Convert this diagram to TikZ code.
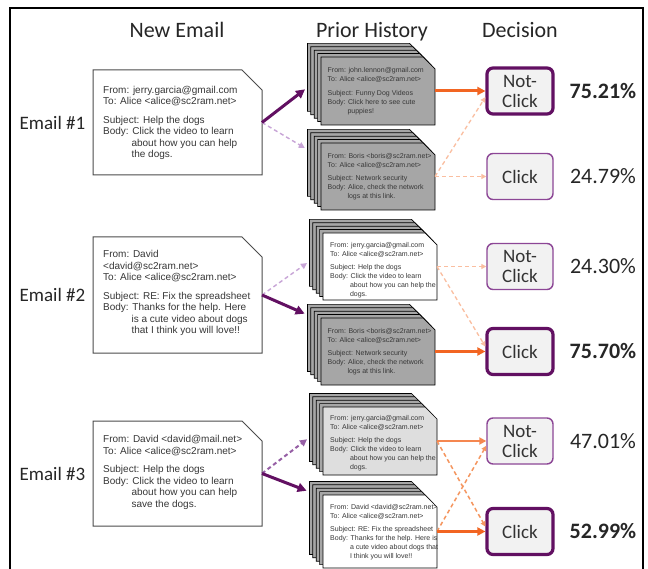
\documentclass[tikz,border=0pt]{standalone}
\usepackage{fontspec}
\setmainfont{Carlito}
\newfontfamily\arialf{Liberation Sans}
\usetikzlibrary{arrows.meta,calc}

\definecolor{dpurple}{RGB}{98,16,98}
\definecolor{mpurple}{RGB}{140,70,150}
\definecolor{lpurple}{RGB}{200,165,215}
\definecolor{purpdash}{RGB}{150,95,165}
\definecolor{orsolid}{RGB}{242,101,34}
\definecolor{orthin}{RGB}{245,135,80}
\definecolor{orlight}{RGB}{250,190,160}
\definecolor{ormid}{RGB}{245,150,95}
\definecolor{cardgray}{RGB}{166,166,166}
\definecolor{cardlight}{RGB}{222,222,222}
\definecolor{boxfill}{RGB}{242,242,242}
\definecolor{txtgray}{RGB}{55,55,55}

\newcommand\bind{\hphantom{Body:}\ }
\newcommand\cardshape[4]{\filldraw[cardedge,fill=#4] (#1,#2) -- ++(102,0) -- ++(12,12) -- ++(0,#3-12) -- ++(-114,0) -- cycle;}
\newcommand\cardstack[6]{%
  \foreach \k in {4,3,2,1}{\cardshape{#2-3.4*\k}{#3-3.4*\k}{#4}{#5}}
  \cardshape{#2}{#3}{#4}{#6}
  \node[area, minimum width=114pt, minimum height=#4pt] (f#1) at (#2+57, #3+#4/2) {};
  \node[area, minimum width=127.6pt, minimum height=#4pt+13.6pt] (s#1) at (#2+57-6.8, #3+#4/2-6.8) {};
}

\tikzset{
  area/.style={inner sep=0pt, outer sep=0pt, draw=none},
  cardedge/.style={draw=black, line width=0.7pt},
  eline/.style={draw=black!70, line width=1pt, fill=white},
  hdr/.style={font=\fontsize{22}{26}\selectfont, anchor=base, text=black!85},
  elabel/.style={font=\fontsize{19}{22}\selectfont, text=black!85},
  etext/.style={font=\arialf\fontsize{10}{11.5}\selectfont, align=left, anchor=west, inner sep=0pt, text=txtgray},
  ctext/.style={font=\arialf\fontsize{7}{9}\selectfont, align=left, anchor=west, inner sep=0pt, text=txtgray},
  dbox/.style={rounded corners=6pt, fill=boxfill, minimum width=66pt, minimum height=46pt, align=center, font=\fontsize{19}{20}\selectfont, inner sep=0pt, text=black!80},
  dsel/.style={dbox, draw=dpurple, line width=3.2pt},
  dnot/.style={dbox, draw=mpurple, line width=1.4pt},
  pct/.style={font=\fontsize{22}{26}\selectfont, text=black!85},
  psolid/.style={draw=dpurple, line width=3pt, shorten >=3pt, -{Triangle[length=9pt,width=9pt]}},
  pdash/.style={draw=lpurple, line width=1.4pt, dash pattern=on 4pt off 3pt, shorten >=3pt, -{Triangle[length=6pt,width=6pt]}},
  pdashB/.style={draw=purpdash, line width=2pt, dash pattern=on 4pt off 3pt, shorten >=3pt, -{Triangle[length=7pt,width=7pt]}},
  osolid/.style={draw=orsolid, line width=3pt, -{Triangle[length=8pt,width=8pt]}},
  osolidB/.style={draw=orthin, line width=2pt, -{Triangle[length=7pt,width=7pt]}},
  odash/.style={draw=orlight, line width=1.3pt, dash pattern=on 4pt off 3pt, -{Triangle[length=5pt,width=5pt]}},
  odashB/.style={draw=ormid, line width=1.5pt, dash pattern=on 4pt off 3pt, -{Triangle[length=5pt,width=5pt]}}
}

\begin{document}
\begin{tikzpicture}[x=1pt,y=-1pt]
\useasboundingbox (0,0) rectangle (648,569);
\fill[white] (0,0) rectangle (648,569);
\draw[line width=2.2pt] (10,569) -- (10,8) -- (643,8) -- (643,569);

% headers
\node[hdr] (h1) at (177,38) {New Email};
\node[hdr] (h2) at (372,38) {Prior History};
\node[hdr] (h3) at (520,38) {Decision};

% email labels
\node[elabel] (l1) at (52.5,122.5) {Email \#1};
\node[elabel] (l2) at (52.5,295) {Email \#2};
\node[elabel] (l3) at (52.5,473.5) {Email \#3};

% email boxes
\node[area, minimum width=169pt, minimum height=105pt] (e1) at (177.5,122.5) {};
\node[area, minimum width=169pt, minimum height=116pt] (e2) at (177.5,295) {};
\node[area, minimum width=169pt, minimum height=105pt] (e3) at (177.5,473.5) {};
\foreach \e in {e1,e2,e3}{
  \draw[eline] (\e.north west) -- ([xshift=-20pt]\e.north east) -- ([yshift=-20pt]\e.north east) -- (\e.south east) -- (\e.south west) -- cycle;
}
\node[etext] (et1) at (103,123) {From: jerry.garcia@gmail.com\\
To: Alice <alice@sc2ram.net>\\[7pt]
Subject: Help the dogs\\
Body: Click the video to learn\\
\bind about how you can help\\
\bind the dogs.};
\node[etext] (et2) at (103,293) {From: David\\
<david@sc2ram.net>\\
To: Alice <alice@sc2ram.net>\\[7pt]
Subject: RE: Fix the spreadsheet\\
Body: Thanks for the help. Here\\
\bind is a cute video about dogs\\
\bind that I think you will love!!};
\node[etext] (et3) at (103,472.5) {From: David <david@mail.net>\\
To: Alice <alice@sc2ram.net>\\[7pt]
Subject: Help the dogs\\
Body: Click the video to learn\\
\bind about how you can help\\
\bind save the dogs.};

% stacks
\cardstack{1}{321}{57}{68}{cardgray}{cardgray}
\cardstack{2}{321}{143}{67}{cardgray}{cardgray}
\cardstack{3}{323}{233}{67}{cardgray}{white}
\cardstack{4}{321}{318}{67}{cardgray}{cardgray}
\cardstack{5}{323}{407}{68}{cardgray}{cardlight}
\cardstack{6}{323}{495}{73}{cardgray}{white}

\node[ctext] (c1) at (327.5,91) {From: john.lennon@gmail.com\\
To: Alice <alice@sc2ram.net>\\[4.5pt]
Subject: Funny Dog Videos\\
Body: Click here to see cute\\
\bind puppies!};
\node[ctext] (c2) at (327.5,176.5) {From: Boris <boris@sc2ram.net>\\
To: Alice <alice@sc2ram.net>\\[4.5pt]
Subject: Network security\\
Body: Alice, check the network\\
\bind logs at this link.};
\node[ctext] (c3) at (330,270) {From: jerry.garcia@gmail.com\\
To: Alice <alice@sc2ram.net>\\[4.5pt]
Subject: Help the dogs\\
Body: Click the video to learn\\
\bind about how you can help the\\
\bind dogs.};
\node[ctext] (c4) at (327.5,351.5) {From: Boris <boris@sc2ram.net>\\
To: Alice <alice@sc2ram.net>\\[4.5pt]
Subject: Network security\\
Body: Alice, check the network\\
\bind logs at this link.};
\node[ctext] (c5) at (330,443) {From: jerry.garcia@gmail.com\\
To: Alice <alice@sc2ram.net>\\[4.5pt]
Subject: Help the dogs\\
Body: Click the video to learn\\
\bind about how you can help the\\
\bind dogs.};
\node[ctext] (c6) at (330,532) {From: David <david@sc2ram.net>\\
To: Alice <alice@sc2ram.net>\\[4.5pt]
Subject: RE: Fix the spreadsheet\\
Body: Thanks for the help. Here is\\
\bind a cute video about dogs that\\
\bind I think you will love!!};

% decisions
\node[dsel] (d1n) at (520,91) {Not-\\Click};
\node[dnot] (d1c) at (520,176.5) {Click};
\node[dnot] (d2n) at (520,266.5) {Not-\\Click};
\node[dsel] (d2c) at (520,351.5) {Click};
\node[dnot] (d3n) at (520,441) {Not-\\Click};
\node[dsel] (d3c) at (520,531.5) {Click};

\node[pct] (p1) at (603,91) {\textbf{75.21\%}};
\node[pct] (p2) at (603,176.5) {24.79\%};
\node[pct] (p3) at (603,266.5) {24.30\%};
\node[pct] (p4) at (603,351.5) {\textbf{75.70\%}};
\node[pct] (p5) at (603,441) {47.01\%};
\node[pct] (p6) at (603,531.5) {\textbf{52.99\%}};

% email -> stacks
\draw[pdash] (e1.east) -- ($(s2.north west)!0.25!(s2.south west)$);
\draw[psolid] (e1.east) -- ($(s1.north west)!0.54!(s1.south west)$);
\draw[pdash] (e2.east) -- ($(s3.north west)!0.52!(s3.south west)$);
\draw[psolid] (e2.east) -- ($(s4.north west)!0.13!(s4.south west)$);
\draw[pdashB] (e3.east) -- ($(s5.north west)!0.54!(s5.south west)$);
\draw[psolid] (e3.east) -- ($(s6.north west)!0.12!(s6.south west)$);

% stacks -> decisions
\draw[odash] (f2.east) -- (d1c.west);
\draw[odash] (f2.east) -- ($(d1n.west)!0.25!(d1n.south west)$);
\draw[osolid] (f1.east) -- (d1n.west);

\draw[odash] (f3.east) -- (d2n.west);
\draw[odash] (f3.east) -- ($(d2c.west)!0.2!(d2c.north west)$);
\draw[osolid] (f4.east) -- (d2c.west);

\draw[odashB] (f5.east) -- ($(d3c.west)!0.2!(d3c.north west)$);
\draw[odashB] (f6.east) -- ($(d3n.west)!0.2!(d3n.south west)$);
\draw[osolidB] (f5.east) -- (d3n.west);
\draw[osolid] (f6.east) -- (d3c.west);
\end{tikzpicture}
\end{document}
